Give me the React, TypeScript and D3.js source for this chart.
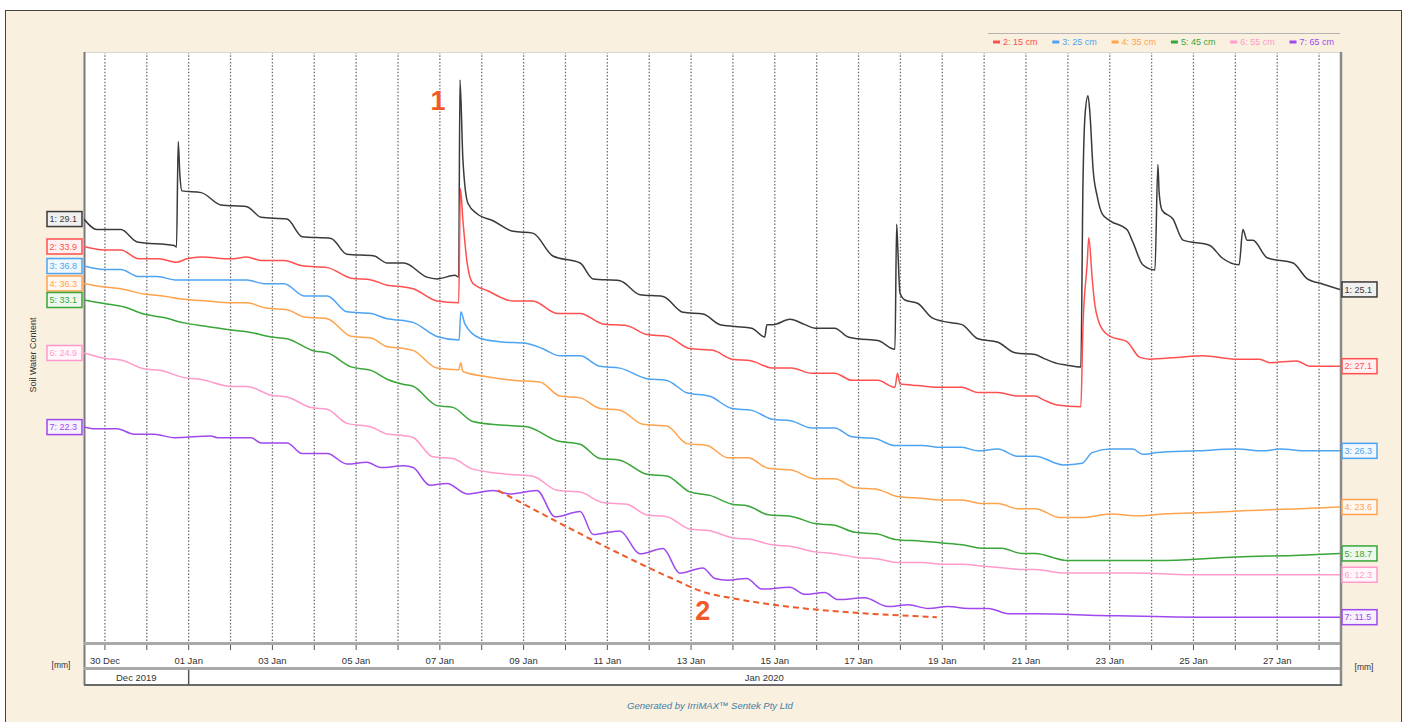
import React, { useRef, useEffect } from 'react';
import * as d3 from 'd3';

// Readings as [days since 30 Dec 2019 00:00, soil water in mm]
const sensor1 = [
  [-0.5, 29.1], [-0.19, 28.5], [0.38, 28.5], [0.77, 27.8], [1.65, 27.6], [1.71, 27.5], [1.75, 33.5], [1.79, 31.6],
  [1.84, 30.7], [2.3, 30.6], [2.77, 29.9], [3.39, 29.8], [3.73, 29.2], [4.35, 29.1], [4.71, 28.1], [5.4, 28.0],
  [5.78, 27.1], [6.43, 27.0], [6.74, 26.6], [7.14, 26.6], [7.69, 25.8], [7.93, 25.7], [8.36, 25.9], [8.45, 25.8],
  [8.48, 37.0], [8.55, 32.5], [8.67, 30.0], [8.89, 29.4], [9.27, 29.0], [9.75, 28.4], [10.22, 28.3], [10.7, 27.0],
  [11.35, 26.6], [11.66, 25.7], [12.3, 25.6], [12.78, 24.8], [13.33, 24.7], [13.81, 23.8], [14.29, 23.7], [14.69, 23.1],
  [15.05, 23.0], [15.45, 22.9], [15.76, 22.4], [15.81, 23.1], [15.96, 23.1], [16.36, 23.4], [16.72, 23.1], [16.96, 22.9],
  [17.43, 22.9], [17.75, 22.4], [17.99, 22.3], [18.46, 22.2], [18.87, 21.7], [18.91, 28.8], [18.94, 27.3], [18.99, 24.9],
  [19.11, 24.5], [19.42, 24.3], [19.75, 23.5], [19.99, 23.3], [20.47, 23.1], [20.85, 22.3], [21.33, 22.1], [21.74, 21.5],
  [22.22, 21.4], [22.41, 21.2], [22.74, 20.9], [22.98, 20.8], [23.31, 20.7], [23.36, 31.0], [23.41, 35.0], [23.48, 36.1],
  [23.53, 35.0], [23.6, 32.0], [23.7, 30.4], [23.82, 29.4], [24.01, 29.0], [24.41, 28.5], [24.55, 27.8], [24.79, 26.5],
  [25.08, 26.2], [25.15, 32.2], [25.18, 30.6], [25.25, 29.6], [25.51, 29.1], [25.75, 27.9], [26.39, 27.6], [26.68, 26.9],
  [27.09, 26.5], [27.18, 28.5], [27.28, 27.9], [27.42, 27.9], [27.76, 26.9], [28.38, 26.6], [28.72, 25.7], [29.1, 25.4],
  [29.5, 25.1],
];
const sensor2 = [
  [-0.5, 33.9], [-0.02, 33.7], [0.38, 33.7], [0.81, 33.2], [1.29, 33.2], [1.7, 33.0], [1.96, 33.2], [2.3, 33.3],
  [3.01, 33.2], [3.39, 33.3], [3.73, 33.1], [4.28, 33.1], [4.71, 32.8], [5.31, 32.7], [5.88, 32.1], [6.36, 32.0],
  [6.74, 31.7], [7.14, 31.6], [7.36, 31.5], [7.93, 30.8], [8.45, 30.7], [8.49, 37.2], [8.55, 35.4], [8.65, 33.0],
  [8.79, 31.8], [9.13, 31.4], [9.75, 30.8], [10.22, 30.8], [10.8, 30.1], [11.35, 30.1], [11.89, 29.5], [12.47, 29.4],
  [12.94, 28.9], [13.42, 28.8], [13.97, 28.1], [14.52, 28.0], [14.98, 27.5], [15.45, 27.4], [15.93, 27.0], [16.4, 27.0],
  [16.88, 26.7], [17.43, 26.7], [17.84, 26.3], [18.46, 26.3], [18.87, 25.9], [18.93, 26.7], [18.99, 26.1], [19.42, 26.0],
  [19.99, 25.9], [20.47, 25.9], [20.85, 25.6], [21.33, 25.6], [21.79, 25.4], [22.22, 25.4], [22.41, 25.2], [22.74, 24.9],
  [23.31, 24.8], [23.36, 29.3], [23.46, 32.9], [23.5, 34.4], [23.58, 32.1], [23.65, 30.5], [23.82, 29.2], [24.01, 28.8],
  [24.41, 28.5], [24.72, 27.6], [24.96, 27.5], [25.6, 27.6], [26.22, 27.7], [27.04, 27.5], [27.58, 27.5], [27.82, 27.3],
  [28.47, 27.4], [28.78, 27.1], [29.5, 27.1],
];
const sensor3 = [
  [-0.5, 36.8], [-0.02, 36.6], [0.38, 36.6], [0.81, 36.2], [1.24, 36.2], [1.72, 36.0], [2.84, 36.0], [3.39, 36.0],
  [3.8, 35.8], [4.28, 35.8], [4.76, 35.1], [5.31, 35.1], [5.78, 34.2], [6.36, 34.1], [6.74, 33.8], [7.14, 33.7],
  [7.36, 33.6], [7.93, 32.8], [8.46, 32.6], [8.5, 34.2], [8.6, 33.5], [8.96, 32.7], [9.43, 32.5], [10.08, 32.4],
  [10.46, 32.1], [10.87, 31.7], [11.35, 31.7], [11.82, 31.1], [12.3, 31.0], [12.94, 30.4], [13.42, 30.3], [13.9, 29.6],
  [14.45, 29.4], [14.98, 28.7], [15.45, 28.6], [15.93, 28.1], [16.4, 28.0], [16.88, 27.6], [17.43, 27.6], [17.84, 27.1],
  [18.39, 27.0], [18.87, 26.6], [19.51, 26.6], [19.99, 26.5], [20.47, 26.5], [20.85, 26.3], [21.33, 26.4], [21.79, 26.0],
  [22.22, 26.0], [22.89, 25.5], [23.34, 25.6], [23.58, 26.2], [24.01, 26.4], [24.55, 26.4], [24.79, 26.1], [25.13, 26.2],
  [26.08, 26.3], [27.04, 26.4], [27.66, 26.3], [28.07, 26.4], [28.71, 26.3], [29.5, 26.3],
];
const sensor4 = [
  [-0.5, 36.3], [-0.02, 36.1], [0.38, 36.0], [0.93, 35.7], [1.34, 35.6], [1.89, 35.4], [2.44, 35.3], [3.01, 35.2],
  [3.39, 35.2], [3.85, 34.9], [4.35, 34.8], [4.76, 34.4], [5.31, 34.3], [5.88, 33.3], [6.36, 33.2], [6.74, 32.7],
  [7.14, 32.6], [7.36, 32.5], [7.93, 31.5], [8.45, 31.4], [8.5, 31.8], [8.55, 31.3], [9.13, 31.0], [9.75, 30.8],
  [10.39, 30.7], [10.87, 29.9], [11.35, 29.8], [11.82, 29.2], [12.3, 29.1], [12.85, 28.3], [13.42, 28.2], [13.9, 27.2],
  [14.38, 27.1], [14.88, 26.4], [15.36, 26.4], [15.84, 25.8], [16.4, 25.7], [16.96, 25.2], [17.43, 25.2], [17.91, 24.7],
  [18.46, 24.6], [18.92, 24.2], [19.51, 24.1], [19.99, 24.0], [20.47, 24.0], [20.94, 23.8], [21.33, 23.8], [21.81, 23.5],
  [22.22, 23.5], [22.81, 23.0], [23.36, 23.0], [24.01, 23.2], [24.72, 23.1], [25.27, 23.2], [26.47, 23.3], [27.28, 23.4],
  [28.54, 23.5], [29.5, 23.6],
];
const sensor5 = [
  [-0.5, 33.1], [-0.02, 32.9], [0.46, 32.7], [0.93, 32.3], [1.41, 32.1], [1.89, 31.8], [2.44, 31.6], [3.01, 31.4],
  [3.39, 31.3], [3.97, 31.0], [4.35, 30.9], [5.0, 30.2], [5.31, 30.1], [5.88, 29.3], [6.36, 29.1], [6.74, 28.6],
  [7.14, 28.3], [7.36, 28.2], [7.93, 27.1], [8.31, 27.0], [8.79, 26.2], [9.43, 26.0], [10.08, 25.9], [10.8, 25.1],
  [11.35, 24.9], [11.82, 24.1], [12.3, 24.0], [12.94, 23.2], [13.42, 23.1], [13.97, 22.2], [14.45, 22.0], [14.98, 21.5],
  [15.36, 21.4], [15.84, 20.9], [16.4, 20.8], [16.96, 20.4], [17.43, 20.3], [17.91, 19.9], [18.46, 19.8], [18.87, 19.5],
  [19.51, 19.4], [19.99, 19.3], [20.47, 19.2], [20.94, 19.0], [21.42, 19.0], [21.9, 18.7], [22.22, 18.7], [22.98, 18.3],
  [23.7, 18.3], [25.27, 18.3], [27.04, 18.5], [28.54, 18.6], [29.5, 18.7],
];
const sensor6 = [
  [-0.5, 24.9], [-0.02, 24.6], [0.38, 24.5], [0.93, 24.0], [1.34, 23.9], [1.89, 23.5], [2.3, 23.4], [3.01, 23.0],
  [3.39, 23.0], [3.97, 22.5], [4.35, 22.4], [4.92, 21.8], [5.31, 21.7], [5.78, 20.9], [6.36, 20.7], [6.74, 20.3],
  [7.14, 20.2], [7.36, 20.1], [7.83, 19.0], [8.31, 18.9], [8.79, 18.3], [9.67, 18.0], [10.22, 17.9], [10.8, 17.1],
  [11.35, 17.0], [11.89, 16.4], [12.47, 16.3], [12.94, 15.7], [13.42, 15.6], [13.97, 14.9], [14.45, 14.8], [14.98, 14.4],
  [15.45, 14.3], [15.93, 14.0], [16.4, 13.9], [16.96, 13.6], [17.43, 13.5], [17.91, 13.3], [18.46, 13.2], [18.92, 13.0],
  [19.51, 13.0], [19.99, 12.9], [20.47, 12.9], [20.94, 12.8], [21.42, 12.7], [21.9, 12.6], [22.22, 12.6], [22.9, 12.4],
  [24.5, 12.4], [26.2, 12.3], [28.0, 12.3], [29.5, 12.3],
];
const sensor7 = [
  [-0.5, 22.3], [-0.26, 22.2], [0.29, 22.2], [0.7, 21.9], [1.17, 21.9], [1.65, 21.7], [2.53, 21.8], [2.68, 21.7],
  [3.49, 21.7], [3.73, 21.4], [4.35, 21.4], [4.71, 20.8], [5.31, 20.8], [5.78, 20.2], [6.26, 20.3], [6.59, 20.0],
  [7.14, 20.1], [7.36, 20.0], [7.76, 19.0], [8.17, 19.1], [8.65, 18.5], [9.27, 18.7], [9.67, 18.5], [10.32, 18.7],
  [10.75, 17.2], [11.35, 17.5], [11.66, 16.2], [12.3, 16.4], [12.78, 15.1], [13.33, 15.4], [13.73, 14.0], [14.28, 14.3],
  [14.57, 13.7], [14.88, 13.6], [15.33, 13.7], [15.69, 13.1], [16.36, 13.2], [16.72, 12.8], [17.19, 12.9], [17.51, 12.5],
  [18.15, 12.6], [18.7, 12.1], [19.18, 12.2], [19.66, 12.0], [20.14, 12.1], [20.62, 12.0], [21.1, 12.0], [21.58, 11.7],
  [22.22, 11.7], [23.77, 11.6], [26.16, 11.5], [29.5, 11.5],
];

const sensors = [sensor1, sensor2, sensor3, sensor4, sensor5, sensor6, sensor7];
const sensorIds = ['1', '2', '3', '4', '5', '6', '7'];
const legendLabels = ['2: 15 cm', '3: 25 cm', '4: 35 cm', '5: 45 cm', '6: 55 cm', '7: 65 cm'];
const sensorColors = ['#3a3a3a', '#ff4f4f', '#4ea4f2', '#ffa34d', '#38a638', '#ff9acb', '#9f48ee'];
// each sensor is drawn in its own band: value at the top of the plot, same mm span for all
const bandTop = [38.59, 44.95, 48.96, 49.45, 47.19, 42.0, 43.61];
const bandSpan = 33.52;

// drying trend drawn over sensor 7 (days, mm)
const trendNote = [[9.39, 18.7], [13.73, 13.5], [14.21, 13.0], [14.93, 12.6], [19.87, 11.5]];
const rainPeak = [8.48, 37.0];

const dayZero = new Date(2019, 11, 30);
const dateStart = new Date(2019, 11, 29, 12);
const dateEnd = new Date(2020, 0, 28, 12);
const toDate = (d: number) => new Date(dayZero.getTime() + d * 864e5);

const FONT = '"Liberation Sans", Arial, sans-serif';
const ACCENT = '#f05a28';

const App = () => {
  const ref = useRef<SVGSVGElement>(null);

  useEffect(() => {
    const svg = d3.select(ref.current);
    svg.selectAll('*').remove();

    const left = 84, right = 1340, top = 52, bottom = 642;
    const x = d3.scaleTime().domain([dateStart, dateEnd]).range([left, right]);
    const ys = bandTop.map(t => d3.scaleLinear().domain([t, t - bandSpan]).range([top, bottom]));

    // frame
    svg.append('rect').attr('width', 1407).attr('height', 722).attr('fill', '#fff');
    svg.append('rect')
      .attr('x', 5.5).attr('y', 10.5).attr('width', 1396).attr('height', 730)
      .attr('fill', '#faf0e0').attr('stroke', '#444').attr('stroke-width', 1);

    // plot panel including date bands
    svg.append('rect')
      .attr('x', left).attr('y', top).attr('width', right - left).attr('height', 685 - top)
      .attr('fill', '#fff');

    svg.append('defs').append('clipPath').attr('id', 'plotClip')
      .append('rect').attr('x', left).attr('y', top).attr('width', right - left).attr('height', bottom - top);

    // daily dotted grid
    const days = d3.timeDay.range(dateStart, dateEnd);
    svg.append('g').selectAll('line').data(days).enter().append('line')
      .attr('x1', d => x(d)).attr('x2', d => x(d))
      .attr('y1', top).attr('y2', bottom)
      .attr('stroke', '#6f6f6f').attr('stroke-width', 1.3).attr('stroke-dasharray', '1.5,1.8');

    // borders
    svg.append('line').attr('x1', left).attr('x2', right).attr('y1', top + 0.5).attr('y2', top + 0.5)
      .attr('stroke', '#d8d8d8');
    svg.append('line').attr('x1', left + 0.5).attr('x2', left + 0.5).attr('y1', top).attr('y2', 685)
      .attr('stroke', '#7a7a7a').attr('stroke-width', 2);
    svg.append('line').attr('x1', right + 1).attr('x2', right + 1).attr('y1', top).attr('y2', 686)
      .attr('stroke', '#8a8a8a').attr('stroke-width', 2.5);
    svg.append('line').attr('x1', left).attr('x2', right).attr('y1', 643.5).attr('y2', 643.5)
      .attr('stroke', '#a8a8a8').attr('stroke-width', 3);
    svg.append('line').attr('x1', left).attr('x2', right).attr('y1', 668.5).attr('y2', 668.5)
      .attr('stroke', '#a8a8a8').attr('stroke-width', 3);
    svg.append('line').attr('x1', left).attr('x2', right + 2).attr('y1', 685).attr('y2', 685)
      .attr('stroke', '#6a6a6a').attr('stroke-width', 2);

    // day ticks and labels
    svg.append('g').selectAll('line').data(days).enter().append('line')
      .attr('x1', d => x(d)).attr('x2', d => x(d)).attr('y1', 645).attr('y2', 650)
      .attr('stroke', '#555').attr('stroke-width', 1);
    const fmtDay = d3.timeFormat('%d %b');
    svg.append('g').selectAll('text').data(days.filter((_, i) => i % 2 === 0)).enter().append('text')
      .attr('x', d => x(d)).attr('y', 663.5)
      .attr('text-anchor', 'middle').attr('font-family', FONT).attr('font-size', 9.5).attr('fill', '#333')
      .text(d => fmtDay(d));

    // month band
    const monthEdges = [dateStart, ...d3.timeMonth.range(dateStart, dateEnd), dateEnd];
    const fmtMonth = d3.timeFormat('%b %Y');
    for (let i = 0; i < monthEdges.length - 1; i++) {
      const a = x(monthEdges[i]), b = x(monthEdges[i + 1]);
      svg.append('text').attr('x', (a + b) / 2).attr('y', 681)
        .attr('text-anchor', 'middle').attr('font-family', FONT).attr('font-size', 9.5).attr('fill', '#333')
        .text(fmtMonth(monthEdges[i]));
      if (i > 0) {
        svg.append('line').attr('x1', a).attr('x2', a).attr('y1', 670).attr('y2', 685)
          .attr('stroke', '#555').attr('stroke-width', 1.5);
      }
    }

    // series lines
    const plot = svg.append('g').attr('clip-path', 'url(#plotClip)');
    sensors.forEach((s, i) => {
      const line = d3.line<number[]>()
        .x(p => x(toDate(p[0])))
        .y(p => ys[i](p[1]))
        .curve(d3.curveMonotoneX);
      plot.append('path')
        .datum(s)
        .attr('fill', 'none')
        .attr('stroke', sensorColors[i])
        .attr('stroke-width', 1.5)
        .attr('stroke-linejoin', 'round')
        .attr('d', line);
    });

    // start / end value boxes
    const valueBox = (bx: number, v: number, i: number) => {
      const cy = ys[i](v);
      const g = svg.append('g');
      g.append('rect').attr('x', bx).attr('y', cy - 7.5).attr('width', 35).attr('height', 15)
        .attr('fill', '#fff').attr('stroke', sensorColors[i]).attr('stroke-width', 1.5);
      g.append('rect').attr('x', bx).attr('y', cy - 7.5).attr('width', 35).attr('height', 15)
        .attr('fill', sensorColors[i]).attr('fill-opacity', 0.08);
      g.append('text').attr('x', bx + 2.5).attr('y', cy + 3.3)
        .attr('font-family', FONT).attr('font-size', 9).attr('fill', sensorColors[i])
        .text(`${sensorIds[i]}: ${v.toFixed(1)}`);
    };
    sensors.forEach((s, i) => {
      valueBox(47, s[0][1], i);
      valueBox(1342, s[s.length - 1][1], i);
    });

    // axis titles
    svg.append('text')
      .attr('transform', 'translate(36,355) rotate(-90)')
      .attr('text-anchor', 'middle').attr('font-family', FONT).attr('font-size', 9).attr('fill', '#333')
      .text('Soil Water Content');
    svg.append('text').attr('x', 61).attr('y', 668).attr('text-anchor', 'middle')
      .attr('font-family', FONT).attr('font-size', 8.5).attr('fill', '#333').text('[mm]');
    svg.append('text').attr('x', 1364).attr('y', 670).attr('text-anchor', 'middle')
      .attr('font-family', FONT).attr('font-size', 8.5).attr('fill', '#333').text('[mm]');

    // legend
    svg.append('line').attr('x1', 988).attr('x2', right).attr('y1', 33.5).attr('y2', 33.5)
      .attr('stroke', '#b5b5b5');
    legendLabels.forEach((label, i) => {
      const lx = 993 + i * 59.3;
      svg.append('rect').attr('x', lx).attr('y', 40.5).attr('width', 7).attr('height', 3)
        .attr('fill', sensorColors[i + 1]);
      svg.append('text').attr('x', lx + 10).attr('y', 45)
        .attr('font-family', FONT).attr('font-size', 9).attr('fill', sensorColors[i + 1])
        .text(label);
    });

    // annotations
    const trend = d3.line<number[]>()
      .x(p => x(toDate(p[0])))
      .y(p => ys[6](p[1]))
      .curve(d3.curveMonotoneX);
    svg.append('path').datum(trendNote)
      .attr('fill', 'none').attr('stroke', ACCENT).attr('stroke-width', 2)
      .attr('stroke-dasharray', '6,4').attr('d', trend);
    svg.append('text')
      .attr('x', x(toDate(rainPeak[0])) - 22).attr('y', ys[0](rainPeak[1]) + 30)
      .attr('text-anchor', 'middle').attr('font-family', FONT).attr('font-weight', 'bold')
      .attr('font-size', 27).attr('fill', ACCENT).text('1');
    const p2 = trendNote[2];
    svg.append('text')
      .attr('x', x(toDate(p2[0])) + 3).attr('y', ys[6](p2[1]) + 29)
      .attr('text-anchor', 'middle').attr('font-family', FONT).attr('font-weight', 'bold')
      .attr('font-size', 27).attr('fill', ACCENT).text('2');

    // footer
    svg.append('text').attr('x', 710).attr('y', 709).attr('text-anchor', 'middle')
      .attr('font-family', FONT).attr('font-style', 'italic').attr('font-size', 9.5).attr('fill', '#3f7ea6')
      .text('Generated by IrriMAX\u2122 Sentek Pty Ltd');
  }, []);

  return (
    <svg ref={ref} width={1407} height={722}
      style={{ position: 'absolute', left: 0, top: 0, display: 'block' }} />
  );
};

export default App;
